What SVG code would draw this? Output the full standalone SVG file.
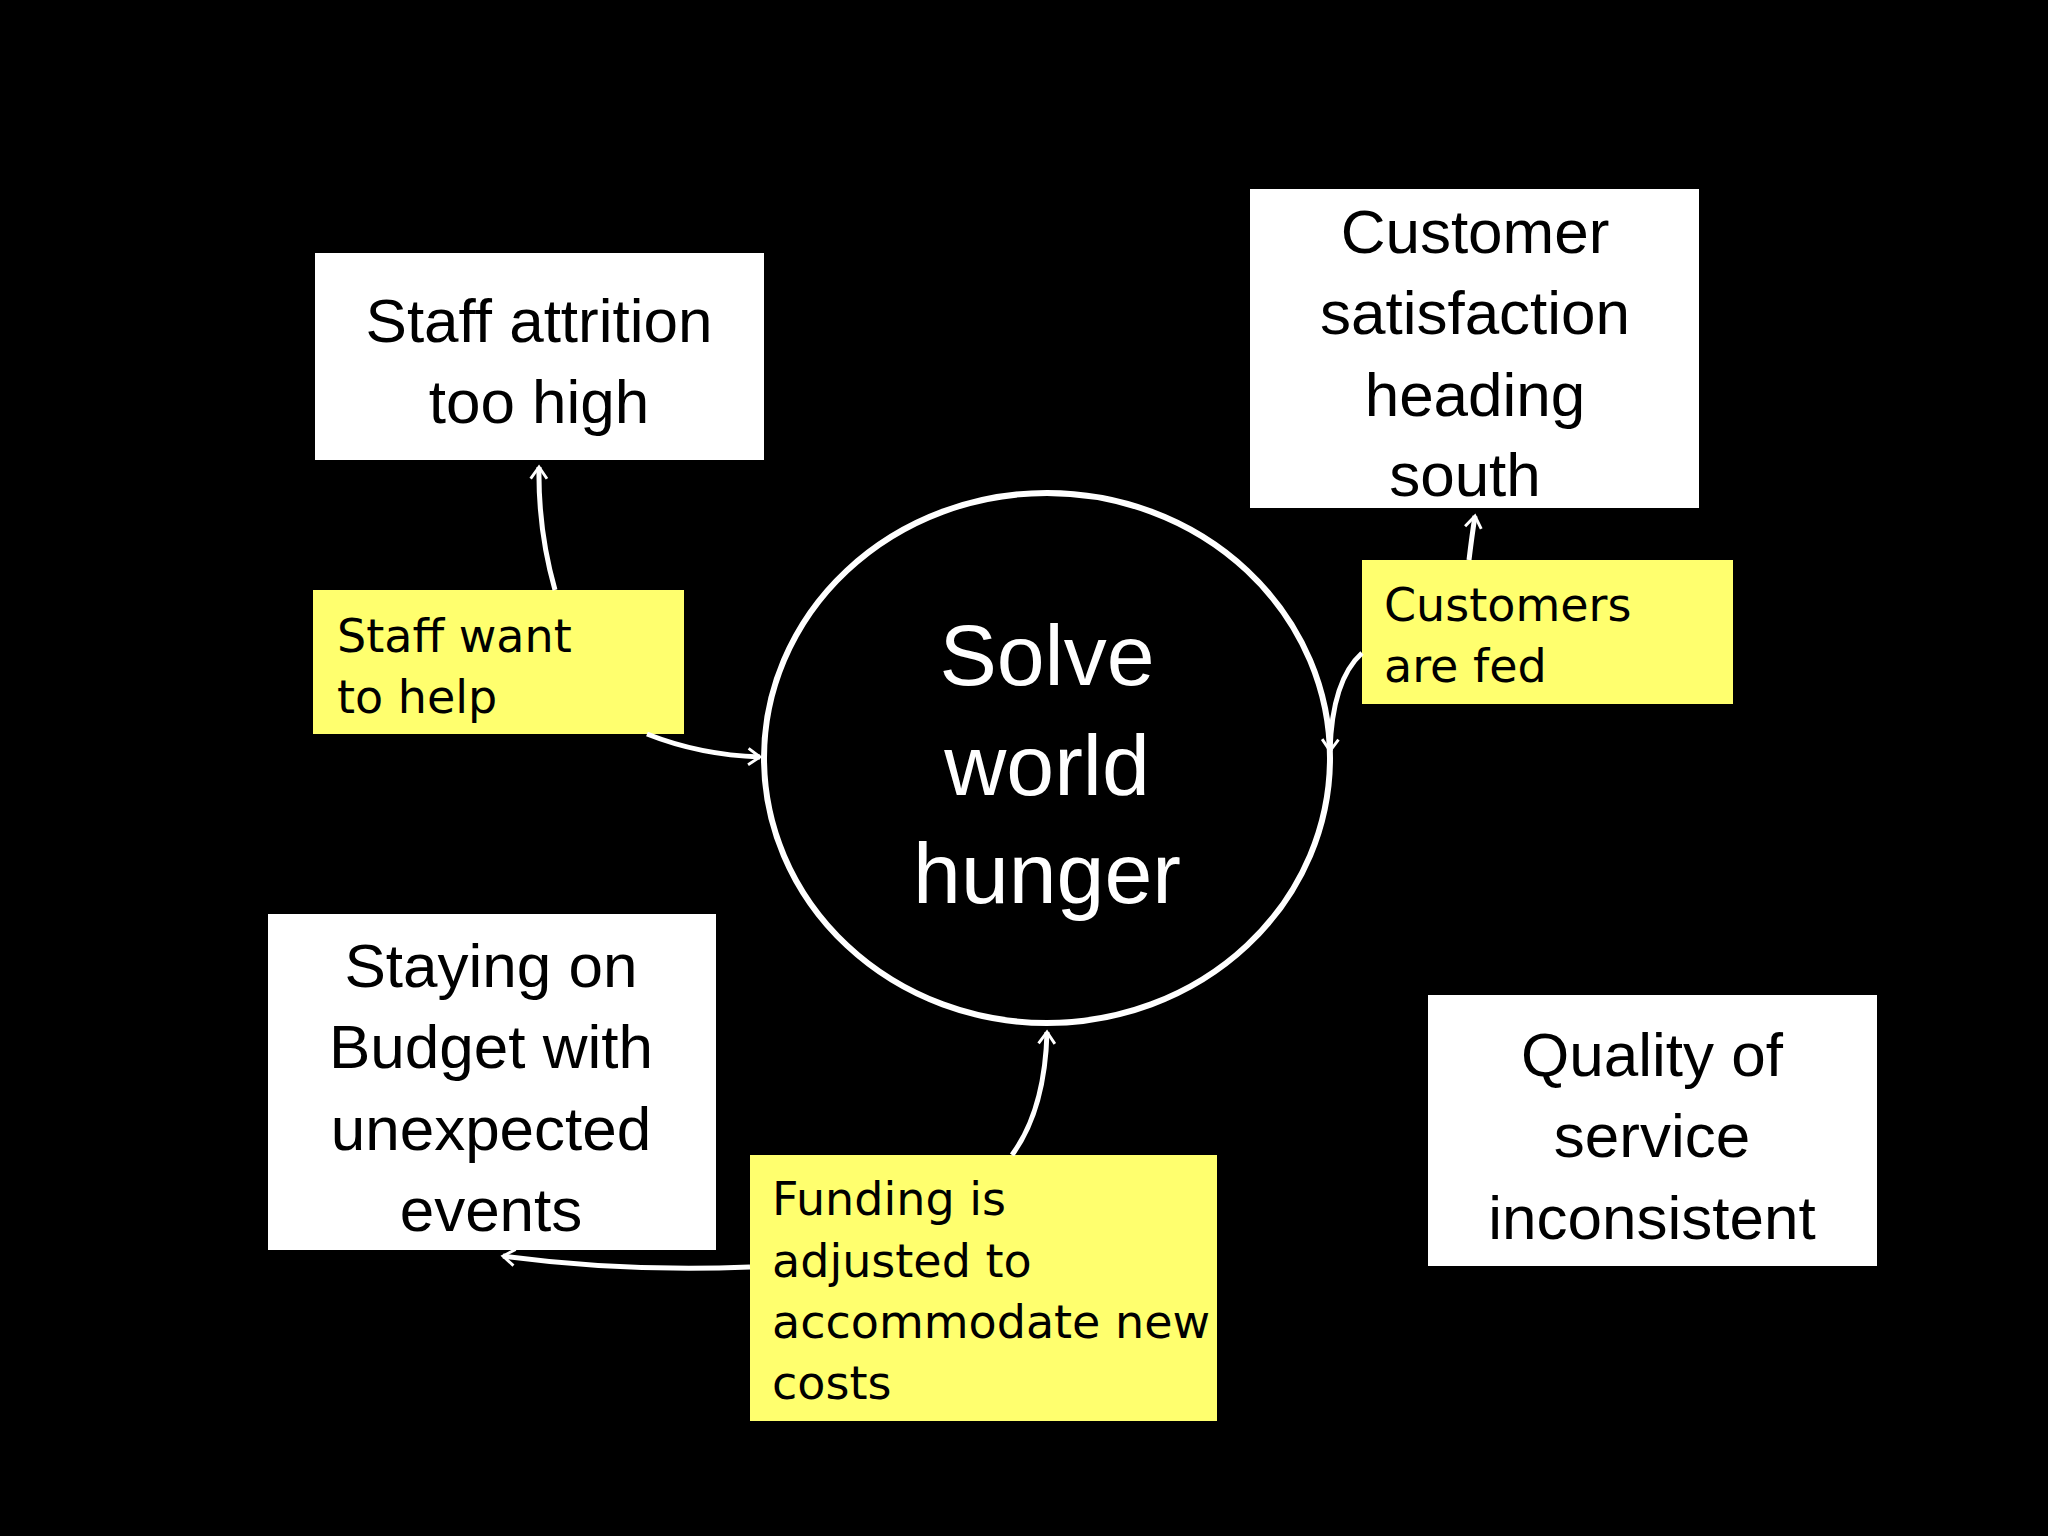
<svg xmlns="http://www.w3.org/2000/svg" width="2048" height="1536" viewBox="0 0 2048 1536">
<style>
.box{fill:#fff}
.note{fill:#ffff6e}
.bt{font-family:"Liberation Sans",Arial,sans-serif;font-size:62px;fill:#000;text-anchor:middle}
.ct{font-family:"Liberation Sans",Arial,sans-serif;font-size:86px;fill:#fff;text-anchor:middle}
.nt{font-family:"DejaVu Sans",sans-serif;font-size:46px;fill:#000}
.c{fill:none;stroke:#fff;stroke-width:5;marker-end:url(#a)}
</style>
<defs>
<marker id="a" viewBox="0 0 12 12" refX="11" refY="6" markerWidth="7" markerHeight="7" orient="auto" markerUnits="userSpaceOnUse" overflow="visible">
<path d="M-20,-14 L0,0 L-20,14" transform="translate(11,6)" fill="none" stroke="#fff" stroke-width="5"/>
</marker>
</defs>
<rect width="2048" height="1536" fill="#000"/>
<g id="center">
<ellipse cx="1047" cy="758" rx="283" ry="265" fill="#000" stroke="#fff" stroke-width="6"/>
<text class="ct" x="1047" y="685">Solve</text>
<text class="ct" x="1047" y="795">world</text>
<text class="ct" x="1047" y="903">hunger</text>
</g>
<g id="staff">
<rect class="box" x="315" y="253" width="449" height="207"/>
<text class="bt" x="539" y="342">Staff attrition</text>
<text class="bt" x="539" y="423">too high</text>
</g>
<g id="customer">
<rect class="box" x="1250" y="189" width="449" height="319"/>
<text class="bt" x="1475" y="253">Customer</text>
<text class="bt" x="1475" y="334">satisfaction</text>
<text class="bt" x="1475" y="416">heading</text>
<text class="bt" x="1465" y="496">south</text>
</g>
<g id="budget">
<rect class="box" x="268" y="914" width="448" height="336"/>
<text class="bt" x="491" y="987">Staying on</text>
<text class="bt" x="491" y="1068">Budget with</text>
<text class="bt" x="491" y="1150">unexpected</text>
<text class="bt" x="491" y="1231">events</text>
</g>
<g id="quality">
<rect class="box" x="1428" y="995" width="449" height="271"/>
<text class="bt" x="1652" y="1076">Quality of</text>
<text class="bt" x="1652" y="1157">service</text>
<text class="bt" x="1652" y="1239">inconsistent</text>
</g>
<g id="note-staff">
<rect class="note" x="313" y="590" width="371" height="144"/>
<text class="nt" x="337" y="652">Staff want</text>
<text class="nt" x="337" y="713">to help</text>
</g>
<g id="note-customers">
<rect class="note" x="1362" y="560" width="371" height="144"/>
<text class="nt" x="1384" y="621">Customers</text>
<text class="nt" x="1384" y="682">are fed</text>
</g>
<g id="note-funding">
<rect class="note" x="750" y="1155" width="467" height="266"/>
<text class="nt" x="772" y="1215">Funding is</text>
<text class="nt" x="772" y="1277">adjusted to</text>
<text class="nt" x="772" y="1338">accommodate new</text>
<text class="nt" x="772" y="1399">costs</text>
</g>
<g id="connectors">
<path class="c" d="M555,590 Q538,530 539,467"/>
<path class="c" d="M647,734 Q700,755 760,757"/>
<path class="c" d="M1469,560 Q1472,535 1475,516"/>
<path class="c" d="M1362,653 Q1332,680 1330,751"/>
<path class="c" d="M1012,1155 Q1045,1110 1047,1032"/>
<path class="c" d="M750,1267 Q620,1272 503,1256"/>
</g>
</svg>
